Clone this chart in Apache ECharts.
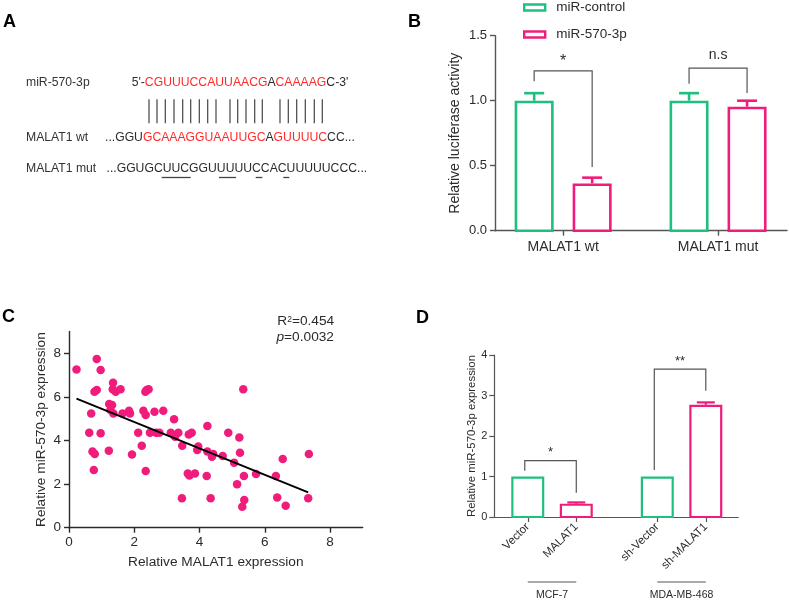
<!DOCTYPE html>
<html>
<head>
<meta charset="utf-8">
<script src="https://cdn.jsdelivr.net/npm/echarts@6/dist/echarts.min.js"></script>
<style>
  html, body { margin: 0; padding: 0; background: #fff; }
  #main { width: 789px; height: 601px; }
</style>
</head>
<body>
<div id="main"></div>
<script>
// panel B: luciferase
var bCats = ['MALAT1 wt', 'MALAT1 mut'];
var bControl = [1.0, 1.0];
var bControlErr = [0.058, 0.058];
var bMimic = [0.364, 0.954];
var bMimicErr = [0.044, 0.046];
// brackets: category, left foot, top, right foot, mark
var bSig = [[0, 1.15, 1.23, 0.49, '*'], [1, 1.13, 1.25, 1.06, 'n.s']];

// panel C: correlation
var cX = [0.23, 0.85, 0.97, 0.78, 0.85, 0.68, 0.62, 0.97, 0.72, 0.79, 0.76, 1.22, 1.35, 1.34, 1.43, 1.58,
          1.23, 1.32, 1.27, 1.36, 1.64, 1.84, 1.87, 1.93, 2.12, 2.23, 2.35, 2.28, 2.35, 2.38, 2.44, 2.34,
          2.48, 2.62, 2.67, 2.77, 2.89, 3.22, 3.12, 3.25, 3.35, 3.47, 3.46, 3.64, 3.69, 3.86, 3.67, 3.76,
          3.96, 3.93, 4.24, 4.24, 4.22, 4.34, 4.38, 4.42, 4.71, 4.88, 5.06, 5.22, 5.24, 5.15, 5.34, 5.36,
          5.37, 5.31, 5.73, 6.34, 6.38, 6.55, 6.64, 7.33, 7.35];
var cY = [7.26, 7.74, 7.23, 6.24, 6.32, 5.24, 4.36, 4.33, 3.49, 3.38, 2.65, 3.53, 6.65, 6.35, 6.24, 6.35,
          5.67, 5.63, 5.40, 5.24, 5.24, 5.37, 5.24, 3.36, 4.36, 3.76, 2.60, 5.37, 5.17, 6.32, 6.35, 6.24,
          4.36, 5.32, 4.36, 4.36, 5.37, 4.98, 4.36, 4.17, 4.36, 3.76, 1.35, 2.49, 2.39, 2.49, 4.27, 4.36,
          3.72, 3.56, 4.66, 3.49, 2.37, 1.35, 3.26, 3.38, 3.29, 4.36, 2.98, 4.14, 3.44, 1.99, 6.35, 2.37,
          1.27, 0.96, 2.46, 2.37, 1.39, 3.15, 1.01, 1.35, 3.38];
var cFitX = [0.23, 7.33];
var cFitY = [5.92, 1.62];
var cTicks = [0, 2, 4, 6, 8];

// panel D: miR-570-3p expression
var dCats = ['Vector', 'MALAT1', 'sh-Vector', 'sh-MALAT1'];
var dValues = [1.0, 0.33, 1.0, 2.77];
var dErr = [0, 0.03, 0, 0.06];
var dGroups = ['MCF-7', 'MDA-MB-468'];
var dSig = [[0, 1.14, 1.39, 0.60, '*'], [2, 1.16, 3.65, 3.12, '**']];

var GREEN = '#1fbf7f';
var PINK = '#f01c7c';
var RED = '#ff2a2a';
var DARK = '#2b2b2b';
var AXIS = '#555';
var FONT = '"Liberation Sans", Arial, sans-serif';

// x positions in D: second cell line shifted right
var dPos = dCats.map(function (c, i) { return i + Math.floor(i / 2) * 0.67; });

function barItem(cx, base, top, errTop, w, color, lw, capW) {
    var kids = [];
    if (errTop !== null) {
        kids.push({ type: 'line', shape: { x1: cx, y1: top, x2: cx, y2: errTop }, style: { stroke: color, lineWidth: lw } });
        kids.push({ type: 'line', shape: { x1: cx - capW / 2, y1: errTop, x2: cx + capW / 2, y2: errTop }, style: { stroke: color, lineWidth: lw } });
    }
    kids.push({ type: 'rect', shape: { x: cx - w / 2 + lw / 2, y: top + lw / 2, width: w - lw, height: base - top - lw / 2 },
                style: { fill: '#fff', stroke: color, lineWidth: lw } });
    return { type: 'group', children: kids };
}

function bBars(offset, color) {
    return function (params, api) {
        var x = api.value(0), v = api.value(1), e = api.value(2);
        var base = api.coord([x, 0]), top = api.coord([x, v]), et = api.coord([x, v + e]);
        return barItem(base[0] + offset, base[1], top[1], et[1], 39, color, 2.6, 20);
    };
}

function bracket(x1, x2, yL, yTop, yR, mark, size, lift) {
    return { type: 'group', children: [
        { type: 'polyline', shape: { points: [[x1, yL], [x1, yTop], [x2, yTop], [x2, yR]] },
          style: { stroke: AXIS, lineWidth: 1.2, fill: null } },
        { type: 'text', x: (x1 + x2) / 2, y: yTop - lift,
          style: { text: mark, fill: DARK, fontSize: size, fontFamily: FONT, align: 'center', verticalAlign: 'middle' } }
    ] };
}

var chart = echarts.init(document.getElementById('main'));

var seqStyle = { fontSize: 12.2, fontFamily: FONT, fill: DARK, verticalAlign: 'middle', align: 'left',
                 rich: { r: { fill: RED, fontSize: 12.2, fontFamily: FONT }, k: { fill: DARK, fontSize: 12.2, fontFamily: FONT } } };

var pairX = [149, 157, 165.3, 174, 182.7, 190.7, 199.3, 207.7, 216, 230, 237.7, 246, 254.7, 262.3,
             280, 288.3, 296.7, 305.3, 314.3, 322.3];
var underSeg = [[161.7, 190.7], [219, 236], [255.7, 262.3], [283.3, 289.3]];

var graphics = [];
['A', 'B', 'C', 'D'].forEach(function (t, i) {
    var pos = [[3, 22], [408, 22], [2, 317], [416, 318]][i];
    graphics.push({ type: 'text', x: pos[0], y: pos[1],
        style: { text: t, fontSize: 18, fontWeight: 'bold', fontFamily: FONT, fill: '#000', verticalAlign: 'middle' } });
});
graphics.push({ type: 'text', x: 26, y: 83, style: { text: 'miR-570-3p', fontSize: 12.2, fontFamily: FONT, fill: '#333', verticalAlign: 'middle' } });
graphics.push({ type: 'text', x: 131.7, y: 83, style: Object.assign({}, seqStyle, { text: "{k|5'-}{r|CGUUUCCAUUAACG}{k|A}{r|CAAAAG}{k|C-3'}" }) });
graphics.push({ type: 'text', x: 26, y: 137.3, style: { text: 'MALAT1 wt', fontSize: 12.2, fontFamily: FONT, fill: '#333', verticalAlign: 'middle' } });
graphics.push({ type: 'text', x: 105, y: 137.3, style: Object.assign({}, seqStyle, { text: '{k|...GGU}{r|GCAAAGGUAAUUGC}{k|A}{r|GUUUUC}{k|CC...}' }) });
graphics.push({ type: 'text', x: 26, y: 168.5, style: { text: 'MALAT1 mut', fontSize: 12.2, fontFamily: FONT, fill: '#333', verticalAlign: 'middle' } });
graphics.push({ type: 'text', x: 106.5, y: 168.5, style: Object.assign({}, seqStyle, { text: '{k|...GGUGCUUCGGUUUUUCCACUUUUUCCC...}' }) });
pairX.forEach(function (x) {
    graphics.push({ type: 'line', shape: { x1: x, y1: 99.3, x2: x, y2: 123.3 }, style: { stroke: '#444', lineWidth: 1.2 } });
});
underSeg.forEach(function (s) {
    graphics.push({ type: 'line', shape: { x1: s[0], y1: 177.5, x2: s[1], y2: 177.5 }, style: { stroke: '#444', lineWidth: 1.3 } });
});
graphics.push({ type: 'text', x: 277.3, y: 321.7, style: { text: 'R{s|2}=0.454', fontSize: 13.7, fontFamily: FONT, fill: DARK, verticalAlign: 'middle',
    rich: { s: { fontSize: 8.5, fontFamily: FONT, fill: DARK, verticalAlign: 'top' } } } });
graphics.push({ type: 'text', x: 276.5, y: 337, style: { text: '{i|p}=0.0032', fontSize: 13.7, fontFamily: FONT, fill: DARK, verticalAlign: 'middle',
    rich: { i: { fontSize: 13.7, fontFamily: FONT, fill: DARK, fontStyle: 'italic' } } } });

function axisBase(color, w) {
    return {
        axisLine: { show: true, onZero: false, lineStyle: { color: color, width: w } },
        axisTick: { show: true, length: 5, lineStyle: { color: color, width: w } },
        splitLine: { show: false }
    };
}

var option = {
    animation: false,
    backgroundColor: '#fff',
    textStyle: { fontFamily: FONT },
    graphic: graphics,
    legend: {
        orient: 'vertical', left: 523, top: -1, padding: 0,
        itemWidth: 21, itemHeight: 6, itemGap: 10,
        textStyle: { fontSize: 13.5, color: DARK, fontFamily: FONT, padding: [0, 0, 0, 6], lineHeight: 17 },
        selectedMode: false,
        data: [
            { name: 'miR-control', icon: 'rect', itemStyle: { color: '#fff', borderColor: GREEN, borderWidth: 2.4 } },
            { name: 'miR-570-3p', icon: 'rect', itemStyle: { color: '#fff', borderColor: PINK, borderWidth: 2.4 } }
        ]
    },
    grid: [
        { left: 495, top: 35.7, width: 292, height: 195 },
        { left: 69, top: 331.5, width: 293.7, height: 196.2 },
        { left: 494.3, top: 355, width: 244, height: 162 }
    ],
    xAxis: [
        Object.assign(axisBase(AXIS, 1.4), {
            type: 'value', gridIndex: 0, min: -0.44, max: 1.445,
            axisTick: { show: true, length: 5, customValues: [0, 1], lineStyle: { color: AXIS, width: 1.4 } },
            axisLabel: { customValues: [0, 1], margin: 9, fontSize: 14, color: DARK,
                formatter: function (v) { return bCats[Math.round(v)]; } }
        }),
        Object.assign(axisBase(DARK, 1.4), {
            type: 'value', gridIndex: 1, min: 0, max: 9,
            name: 'Relative MALAT1 expression', nameLocation: 'middle', nameGap: 28,
            nameTextStyle: { fontSize: 13.7, color: DARK },
            axisTick: { show: true, length: 5, customValues: cTicks, lineStyle: { color: DARK, width: 1.4 } },
            axisLabel: { customValues: cTicks, margin: 8, fontSize: 13.5, color: DARK }
        }),
        Object.assign(axisBase(AXIS, 1.2), {
            type: 'value', gridIndex: 2, min: -0.69, max: 4.34,
            axisTick: { show: true, length: 5, customValues: dPos, lineStyle: { color: AXIS, width: 1.2 } },
            axisLabel: { customValues: dPos, rotate: 45, margin: 8, fontSize: 11.5, color: DARK,
                formatter: function (v) {
                    for (var i = 0; i < dPos.length; i++) { if (Math.abs(dPos[i] - v) < 1e-6) return dCats[i]; }
                    return '';
                } }
        })
    ],
    yAxis: [
        Object.assign(axisBase(AXIS, 1.4), {
            type: 'value', gridIndex: 0, min: 0, max: 1.5, interval: 0.5,
            name: 'Relative luciferase activity', nameLocation: 'middle', nameGap: 33,
            nameTextStyle: { fontSize: 14, color: DARK },
            axisLabel: { margin: 8, fontSize: 13, color: DARK, formatter: function (v) { return v.toFixed(1); } }
        }),
        Object.assign(axisBase(DARK, 1.4), {
            type: 'value', gridIndex: 1, min: 0, max: 9,
            name: 'Relative miR-570-3p expression', nameLocation: 'middle', nameGap: 21,
            nameTextStyle: { fontSize: 13.7, color: DARK },
            axisTick: { show: true, length: 5, customValues: cTicks, lineStyle: { color: DARK, width: 1.4 } },
            axisLabel: { customValues: cTicks, margin: 8, fontSize: 13.5, color: DARK }
        }),
        Object.assign(axisBase(AXIS, 1.2), {
            type: 'value', gridIndex: 2, min: 0, max: 4, interval: 1,
            name: 'Relative miR-570-3p expression', nameLocation: 'middle', nameGap: 15,
            nameTextStyle: { fontSize: 11.4, color: DARK },
            axisLabel: { margin: 7, fontSize: 11, color: DARK }
        })
    ],
    series: [
        {
            name: 'miR-control', type: 'custom', xAxisIndex: 0, yAxisIndex: 0,
            itemStyle: { color: GREEN },
            renderItem: bBars(-29, GREEN),
            data: bCats.map(function (c, i) { return [i, bControl[i], bControlErr[i]]; })
        },
        {
            name: 'miR-570-3p', type: 'custom', xAxisIndex: 0, yAxisIndex: 0,
            itemStyle: { color: PINK },
            renderItem: bBars(29, PINK),
            data: bCats.map(function (c, i) { return [i, bMimic[i], bMimicErr[i]]; })
        },
        {
            type: 'custom', xAxisIndex: 0, yAxisIndex: 0,
            renderItem: function (params, api) {
                var c = api.value(0);
                var l = api.coord([c, api.value(1)]), t = api.coord([c, api.value(2)]), r = api.coord([c, api.value(3)]);
                var mark = bSig[params.dataIndex][4];
                return bracket(l[0] - 29, l[0] + 29, l[1], t[1], r[1], mark, mark === '*' ? 16 : 14, mark === '*' ? 9 : 13);
            },
            data: bSig.map(function (s) { return s.slice(0, 4); })
        },
        {
            type: 'scatter', xAxisIndex: 1, yAxisIndex: 1,
            symbolSize: 8.5, itemStyle: { color: PINK, opacity: 1 },
            data: cX.map(function (x, i) { return [x, cY[i]]; })
        },
        {
            type: 'line', xAxisIndex: 1, yAxisIndex: 1, showSymbol: false, symbol: 'none',
            lineStyle: { color: '#000', width: 2 },
            data: cFitX.map(function (x, i) { return [x, cFitY[i]]; })
        },
        {
            type: 'custom', xAxisIndex: 2, yAxisIndex: 2,
            renderItem: function (params, api) {
                var x = api.value(0), v = api.value(1), e = api.value(2);
                var color = params.dataIndex % 2 === 0 ? GREEN : PINK;
                var base = api.coord([x, 0]), top = api.coord([x, v]), et = api.coord([x, v + e]);
                return barItem(base[0], base[1], top[1], e > 0 ? et[1] : null, 33, color, 2.2, 18);
            },
            data: dCats.map(function (c, i) { return [dPos[i], dValues[i], dErr[i]]; })
        },
        {
            type: 'custom', xAxisIndex: 2, yAxisIndex: 2,
            renderItem: function (params, api) {
                var i = api.value(0);
                var l = api.coord([dPos[i], api.value(1)]), t = api.coord([dPos[i], api.value(2)]);
                var r = api.coord([dPos[i + 1], api.value(3)]);
                return bracket(l[0] - 3, r[0], l[1], t[1], r[1], dSig[params.dataIndex][4], 13, 8);
            },
            data: dSig.map(function (s) { return s.slice(0, 4); })
        },
        {
            type: 'custom', xAxisIndex: 2, yAxisIndex: 2,
            renderItem: function (params, api) {
                var g = params.dataIndex;
                var a = api.coord([dPos[g * 2], 0]), b = api.coord([dPos[g * 2 + 1], 0]);
                var y = a[1] + 65;
                return { type: 'group', children: [
                    { type: 'line', shape: { x1: a[0], y1: y, x2: b[0], y2: y }, style: { stroke: AXIS, lineWidth: 1 } },
                    { type: 'text', x: (a[0] + b[0]) / 2, y: y + 13,
                      style: { text: dGroups[g], fontSize: 10.5, fontFamily: FONT, fill: DARK, align: 'center', verticalAlign: 'middle' } }
                ] };
            },
            data: dGroups.map(function (g, i) { return [i]; })
        }
    ]
};

chart.setOption(option);
</script>
</body>
</html>
